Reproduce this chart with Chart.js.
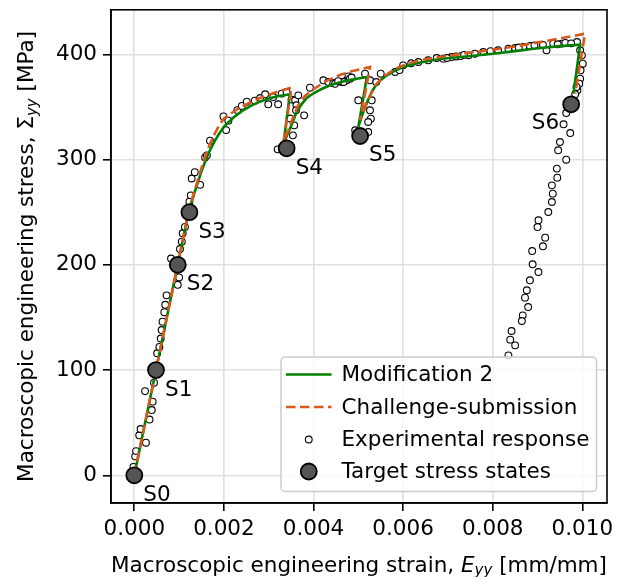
<!DOCTYPE html>
<html>
<head>
<meta charset="utf-8">
<script src="https://cdn.jsdelivr.net/npm/chart.js@4.4.1/dist/chart.umd.min.js"></script>
<style>
    html, body { margin: 0; padding: 0; background: #fff; }
</style>
</head>
<body>
<canvas id="tensao-deformacao" width="623" height="577"></canvas>
<script>
//Dados
//Resposta experimental (deformação e tensão)
const deformacaoExp = [
    -0.00002, 0.00002, 0.00004, 0.00011, 0.00014, 0.00026, 0.00034, 0.00039, 0.00041, 0.00024,
    0.00044, 0.00051, 0.00056, 0.00059, 0.00061, 0.00063, 0.00067, 0.00069, 0.00072, 0.00097,
    0.00100, 0.00082, 0.00102, 0.00106, 0.00108, 0.00113, 0.00123, 0.00126, 0.00147, 0.00128,
    0.00135, 0.00158, 0.00162, 0.00169, 0.00199, 0.00205, 0.00210, 0.00230, 0.00240, 0.00251,
    0.00269, 0.00281, 0.00292, 0.00299, 0.00310, 0.00321, 0.00329, 0.00340, 0.00351, 0.00359,
    0.00362, 0.00361, 0.00379, 0.00357, 0.00354, 0.00320, 0.00348, 0.00366, 0.00392, 0.00422,
    0.00433, 0.00444, 0.00448, 0.00463, 0.00474, 0.00478, 0.00467, 0.00481, 0.00515, 0.00526,
    0.00540, 0.00550, 0.00530, 0.00526, 0.00528, 0.00522, 0.00500, 0.00493, 0.00522, 0.00582,
    0.00600, 0.00634, 0.00656, 0.00690, 0.00708, 0.00746, 0.00760, 0.00779, 0.00812, 0.00835,
    0.00850, 0.00868, 0.00883, 0.00902, 0.00920, 0.00935, 0.00954, 0.00988, 0.00995, 0.00999,
    0.01001, 0.00996, 0.00995, 0.00993, 0.00989, 0.00987, 0.00984, 0.00964, 0.00958, 0.00973,
    0.00950, 0.00946, 0.00964, 0.00943, 0.00944, 0.00932, 0.00934, 0.00932, 0.00924, 0.00902,
    0.00900, 0.00917, 0.00912, 0.00888, 0.00889, 0.00902, 0.00883, 0.00876, 0.00872, 0.00879,
    0.00867, 0.00865, 0.00842, 0.00839, 0.00850, 0.00835, 0.00455, 0.00485, 0.00592, 0.00618,
    0.00675, 0.00698, 0.00718, 0.00728, 0.00736, 0.00795, 0.00858, 0.00893, 0.00912, 0.00945,
    0.00962, 0.00975
]
const tensaoExp = [
    8, 18, 23, 38, 44, 31, 53, 62, 70, 80,
    88, 116, 122, 130, 138, 146, 155, 162, 171, 181,
    188, 206, 215, 222, 230, 236, 260, 266, 276, 282,
    288, 302, 304, 318, 341, 328, 337, 347, 351, 355,
    356, 358.5, 362, 352.5, 359.4, 352.5, 362.7, 364.2, 357, 356.3,
    351.6, 346.8, 342, 332.5, 323, 309.7, 339, 361, 368.3, 375.3,
    373.7, 372.7, 372, 373.7, 375.3, 379, 373.7, 376.9, 381.6, 375.3,
    373.7, 381.6, 356.3, 346.8, 338.9, 335.7, 356.3, 327.8, 326.2, 383.2,
    389.5, 392.7, 394.3, 395.9, 397.4, 399, 400.6, 402.2, 403.8, 405.4,
    406, 407, 407.9, 408.6, 403.8, 410.2, 410.2, 411.7, 403.8, 399,
    391.1, 384.8, 376.9, 372.1, 365.8, 369, 362, 344.2, 333.5, 325.2,
    316.7, 308.8, 299.9, 291.4, 282.8, 275.5, 267.6, 259.7, 250.2, 242.3,
    235.9, 225.8, 217.6, 213.1, 200.5, 193.2, 185.3, 175.8, 168.8, 159.9,
    152, 146.6, 137.1, 128.9, 123.5, 114, 374.5, 378, 385, 391.5,
    396.5, 396.5, 398, 398.3, 399.5, 403, 406.5, 408.5, 409, 409.5,
    410.8, 410.4
]

//Modelo - Modification 2
const deformacaoMod2 = [
    0, 0.0012, 0.0013, 0.0014, 0.0015, 0.0016, 0.0017, 0.0018, 0.0019, 0.0020,
    0.0022, 0.0024, 0.0026, 0.0028, 0.0030, 0.0032, 0.00347, 0.00333, 0.0034, 0.00351,
    0.00362, 0.00374, 0.00385, 0.0040, 0.0042, 0.0044, 0.0046, 0.0048, 0.0050, 0.00519,
    0.0050, 0.0051, 0.0052, 0.0053, 0.0054, 0.0055, 0.0056, 0.0058, 0.0060, 0.0063,
    0.0068, 0.0074, 0.0080, 0.0085, 0.0090, 0.0095, 0.00995, 0.0098
]
const tensaoMod2 = [
    0, 248, 263, 276, 289, 300, 310, 318, 325, 331,
    339.5, 346, 351, 355, 358, 360.2, 362, 315, 322, 333,
    345, 353, 358.5, 363, 367.5, 371, 373.5, 375.5, 377, 378.4,
    331, 344, 355, 364.5, 371, 375.5, 379, 384, 388, 391.5,
    395.5, 398, 400.6, 403, 405.8, 407.8, 409.2, 362.6
]

//Modelo - Challenge-submission
const deformacaoDesafio = [
    0, 0.0012, 0.0013, 0.0014, 0.0015, 0.0016, 0.0017, 0.0018, 0.0019, 0.0020,
    0.0022, 0.0024, 0.0026, 0.0028, 0.0030, 0.0032, 0.00351, 0.00333, 0.0034, 0.00348,
    0.00357, 0.00366, 0.0038, 0.0040, 0.0043, 0.0046, 0.0049, 0.00526, 0.00504, 0.0051,
    0.00522, 0.00531, 0.00541, 0.00555, 0.00571, 0.0059, 0.00608, 0.0064, 0.00682, 0.0074,
    0.00801, 0.0085, 0.00906, 0.0095, 0.01006, 0.00984
]
const tensaoDesafio = [
    0, 248, 264, 278, 292, 305, 316, 325, 333, 339,
    345, 350.5, 354.5, 358.5, 361.5, 364.5, 368.5, 316.7, 324, 333,
    343, 351.6, 360, 367, 375, 380.5, 384.5, 388, 337.3, 345,
    356.3, 365, 372, 378.5, 383.2, 387.5, 391, 394.5, 397.4, 401,
    404.4, 407.5, 411.7, 415, 419.6, 362.6
]

//Estados de tensão alvo
const nomesAlvo = ['S0', 'S1', 'S2', 'S3', 'S4', 'S5', 'S6']
const deformacaoAlvo = [0, 0.000484, 0.00097, 0.00123, 0.0034, 0.00504, 0.00975]
const tensaoAlvo = [0, 100, 200, 250, 310.7, 322.4, 352.5]

//Eixos
const ticksX = [0, 0.002, 0.004, 0.006, 0.008, 0.010]
const ticksY = [0, 100, 200, 300, 400]
const nomesSeries = ['Modification 2', 'Challenge-submission', 'Experimental response', 'Target stress states']


//Juntar x e y em pontos
const pares = (xs, ys) => xs.map((x, i) => ({ x: x, y: ys[i] }))

const fonte = 'DejaVu Sans'
const tam = 21.5
const fonteTicks = { family: fonte, size: tam }
Chart.defaults.font.family = fonte
Chart.defaults.font.size = tam
Chart.defaults.color = '#000'

//Escreve texto com partes em itálico / subscrito
function textoRico(ctx, partes, x, y) {
    let total = 0
    partes.forEach(p => {
        ctx.font = p.f
        total += ctx.measureText(p.t).width
    })
    let cx = x - total / 2
    ctx.textAlign = 'left'
    ctx.textBaseline = 'alphabetic'
    partes.forEach(p => {
        ctx.font = p.f
        ctx.fillText(p.t, cx, y + (p.dy || 0))
        cx += ctx.measureText(p.t).width
    })
}

//Moldura completa do gráfico
const moldura = {
    id: 'moldura',
    afterDatasetsDraw(chart) {
        const { ctx, chartArea: a } = chart
        ctx.save()
        ctx.strokeStyle = '#000'
        ctx.lineWidth = 1.6
        ctx.strokeRect(a.left, a.top, a.right - a.left, a.bottom - a.top)
        ctx.restore()
    }
}

//Nomes S0...S6 junto dos pontos alvo
const rotulos = {
    id: 'rotulos',
    afterDatasetsDraw(chart) {
        const { ctx, scales } = chart
        ctx.save()
        ctx.font = tam + 'px ' + fonte
        ctx.fillStyle = '#000'
        ctx.textBaseline = 'alphabetic'
        nomesAlvo.forEach((nome, i) => {
            const px = scales.x.getPixelForValue(deformacaoAlvo[i])
            const py = scales.y.getPixelForValue(tensaoAlvo[i])
            if (i === nomesAlvo.length - 1) {
                ctx.textAlign = 'right'
                ctx.fillText(nome, px - 12, py + 25)
            } else {
                ctx.textAlign = 'left'
                ctx.fillText(nome, px + 9, py + 25.5)
            }
        })
        ctx.restore()
    }
}

//Legenda dentro do gráfico (canto inferior direito)
const legenda = {
    id: 'legenda',
    afterDraw(chart) {
        const { ctx, chartArea: a } = chart
        const ds = chart.data.datasets
        const w = 315.5, h = 134.5
        const x0 = a.right - 10.5 - w, y0 = a.bottom - 11.5 - h
        ctx.save()
        ctx.beginPath()
        ctx.roundRect(x0, y0, w, h, 4)
        ctx.fillStyle = 'rgba(255,255,255,0.8)'
        ctx.fill()
        ctx.strokeStyle = '#cccccc'
        ctx.lineWidth = 1.5
        ctx.stroke()

        const linhas = [y0 + 17.5, y0 + 50, y0 + 82.5, y0 + 114.5]
        const xAmostra = x0 + 5, wAmostra = 45.5
        ds.forEach((d, i) => {
            const yy = linhas[i]
            if (d.showLine) {
                ctx.beginPath()
                ctx.setLineDash(d.borderDash || [])
                ctx.strokeStyle = d.borderColor
                ctx.lineWidth = d.borderWidth
                ctx.moveTo(xAmostra, yy)
                ctx.lineTo(xAmostra + wAmostra, yy)
                ctx.stroke()
                ctx.setLineDash([])
            } else {
                ctx.beginPath()
                ctx.arc(xAmostra + wAmostra / 2, yy, d.pointRadius, 0, Math.PI * 2)
                ctx.fillStyle = d.pointBackgroundColor
                ctx.fill()
                ctx.strokeStyle = d.pointBorderColor
                ctx.lineWidth = d.pointBorderWidth
                ctx.stroke()
            }
            ctx.fillStyle = '#000'
            ctx.font = tam + 'px ' + fonte
            ctx.textAlign = 'left'
            ctx.textBaseline = 'middle'
            ctx.fillText(d.label, x0 + 60.5, yy + 1)
        })
        ctx.restore()
    }
}

//Títulos dos eixos com subscrito
const titulos = {
    id: 'titulos',
    afterDraw(chart) {
        const { ctx, chartArea: a } = chart
        const normal = tam + 'px ' + fonte
        const italico = 'italic ' + tam + 'px ' + fonte
        const sub = 'italic 15px ' + fonte
        ctx.save()
        ctx.fillStyle = '#000'
        textoRico(ctx, [
            { t: 'Macroscopic engineering strain, ', f: normal },
            { t: 'E', f: italico },
            { t: 'yy', f: sub, dy: 3.5 },
            { t: ' [mm/mm]', f: normal }
        ], (a.left + a.right) / 2, 571.5)

        ctx.translate(33, (a.top + a.bottom) / 2)
        ctx.rotate(-Math.PI / 2)
        textoRico(ctx, [
            { t: 'Macroscopic engineering stress, ', f: normal },
            { t: 'Σ', f: normal },
            { t: 'yy', f: sub, dy: 3.5 },
            { t: ' [MPa]', f: normal }
        ], 0, 0)
        ctx.restore()
    }
}

//Criar gráfico
let ctxGrafico = document.getElementById('tensao-deformacao')
let grafico = new Chart(ctxGrafico, {
    type: 'scatter',
    data: {
        datasets: [{
            label: nomesSeries[0],
            data: pares(deformacaoMod2, tensaoMod2),
            showLine: true,
            borderColor: '#008000',
            borderWidth: 2.6,
            pointRadius: 0,
            tension: 0,
            order: 2
        }, {
            label: nomesSeries[1],
            data: pares(deformacaoDesafio, tensaoDesafio),
            showLine: true,
            borderColor: '#d9581c',
            borderDash: [9.5, 4.5],
            borderWidth: 2.6,
            pointRadius: 0,
            tension: 0,
            order: 1
        }, {
            label: nomesSeries[2],
            data: pares(deformacaoExp, tensaoExp),
            showLine: false,
            pointRadius: 3.4,
            pointBackgroundColor: '#ffffff',
            pointBorderColor: '#000000',
            pointBorderWidth: 1.1,
            order: 3
        }, {
            label: nomesSeries[3],
            data: pares(deformacaoAlvo, tensaoAlvo),
            showLine: false,
            pointRadius: 8,
            pointBackgroundColor: '#555555',
            pointBorderColor: '#000000',
            pointBorderWidth: 1.8,
            order: 0
        }]
    },
    options: {
        responsive: false,
        animation: false,
        layout: { padding: { top: 9.5, right: 16, left: 0, bottom: 0 } },
        plugins: {
            legend: { display: false },
            tooltip: { enabled: false }
        },
        scales: {
            x: {
                type: 'linear',
                min: -0.00052,
                max: 0.01055,
                afterBuildTicks: s => { s.ticks = ticksX.map(v => ({ value: v })) },
                afterFit: s => {
                    s.height = 74
                    s.paddingLeft = 0
                    s.paddingRight = 0
                },
                ticks: {
                    font: fonteTicks,
                    callback: v => v.toFixed(3),
                    padding: 6,
                    maxRotation: 0,
                    autoSkip: false
                },
                grid: { color: '#e0e0e0', lineWidth: 1.6, tickColor: '#000', tickLength: 8, tickWidth: 1.6 },
                border: { color: '#000', width: 1.6 }
            },
            y: {
                type: 'linear',
                min: -26.3,
                max: 442.3,
                afterBuildTicks: s => { s.ticks = ticksY.map(v => ({ value: v })) },
                afterFit: s => {
                    s.width = 111
                    s.paddingTop = 0
                    s.paddingBottom = 0
                },
                ticks: { font: fonteTicks, padding: 6, autoSkip: false },
                grid: { color: '#e0e0e0', lineWidth: 1.6, tickColor: '#000', tickLength: 8, tickWidth: 1.6 },
                border: { color: '#000', width: 1.6 }
            }
        }
    },
    plugins: [moldura, rotulos, legenda, titulos]
})
</script>
</body>
</html>
